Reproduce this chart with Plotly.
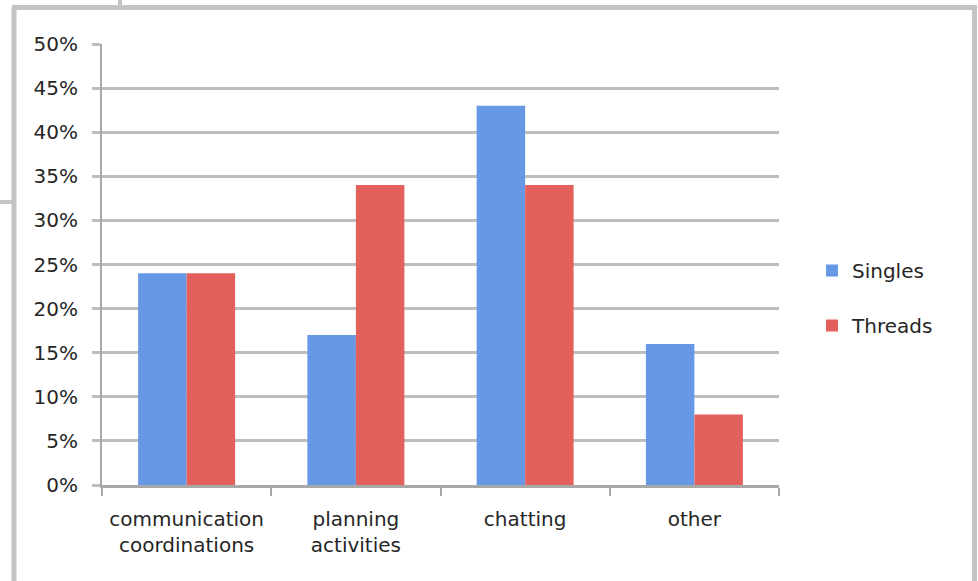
import plotly.graph_objects as go

categories = ["communication<br>coordinations", "planning<br>activities", "chatting", "other"]
singles = [24, 17, 43, 16]
threads = [24, 34, 34, 8]
y_ticks = [0, 5, 10, 15, 20, 25, 30, 35, 40, 45, 50]
y_tick_labels = [f"{v}%" for v in y_ticks]

FONT = "DejaVu Sans"
TXT = "#262626"
FS = 20

fig = go.Figure()
fig.add_trace(go.Bar(name="Singles", x=categories, y=singles,
                     marker=dict(color="#6698E6", line=dict(width=0)),
                     legendgroup="a"))
fig.add_trace(go.Bar(name="Threads", x=categories, y=threads,
                     marker=dict(color="#E4605C", line=dict(width=0)),
                     legendgroup="b"))

L, R, T, B = 102, 199, 44, 96
W, H = 978, 581
pw, ph = W - L - R, H - T - B

def px(x):
    return (x - L) / pw

def py(y):
    return (H - B - y) / ph

frame = "#C4C4C4"
shapes = [
    dict(type="line", xref="paper", yref="paper", x0=px(14), x1=px(14), y0=py(7.5), y1=py(590), line=dict(color=frame, width=5)),
    dict(type="line", xref="paper", yref="paper", x0=px(974.5), x1=px(974.5), y0=py(7.5), y1=py(590), line=dict(color=frame, width=5)),
    dict(type="line", xref="paper", yref="paper", x0=px(12), x1=px(977), y0=py(7.5), y1=py(7.5), line=dict(color=frame, width=5)),
    dict(type="line", xref="paper", yref="paper", x0=px(120), x1=px(120), y0=py(-2), y1=py(7.5), line=dict(color=frame, width=4)),
    dict(type="line", xref="paper", yref="paper", x0=px(-2), x1=px(14), y0=py(202), y1=py(202), line=dict(color=frame, width=4)),
]

fig.update_layout(
    width=W, height=H,
    margin=dict(l=L, r=R, t=T, b=B, autoexpand=False),
    paper_bgcolor="white", plot_bgcolor="white",
    barmode="group", bargap=0.427, bargroupgap=0,
    font=dict(family=FONT, size=FS, color=TXT),
    showlegend=True,
    legend=dict(x=px(812), y=py(298), xanchor="left", yanchor="middle",
                traceorder="grouped", tracegroupgap=26,
                font=dict(family=FONT, size=FS, color=TXT),
                bgcolor="rgba(0,0,0,0)"),
    shapes=shapes,
)
fig.update_yaxes(range=[0, 50], tickvals=y_ticks, ticktext=y_tick_labels,
                 showgrid=True, gridcolor="#BEBEBE", gridwidth=3,
                 showline=True, linecolor="#A8A8A8", linewidth=2,
                 ticks="outside", ticklen=8, tickcolor="#BEBEBE", tickwidth=3,
                 zeroline=False, ticklabelstandoff=10, automargin=False,
                 tickfont=dict(family=FONT, size=FS, color=TXT))
fig.update_xaxes(showline=True, linecolor="#A8A8A8", linewidth=3,
                 ticks="outside", ticklen=8, tickcolor="#A8A8A8", tickwidth=2,
                 tickson="boundaries", showgrid=False, ticklabelstandoff=14,
                 tickangle=0, automargin=False,
                 tickfont=dict(family=FONT, size=FS, color=TXT))

fig.write_html("out.html")
